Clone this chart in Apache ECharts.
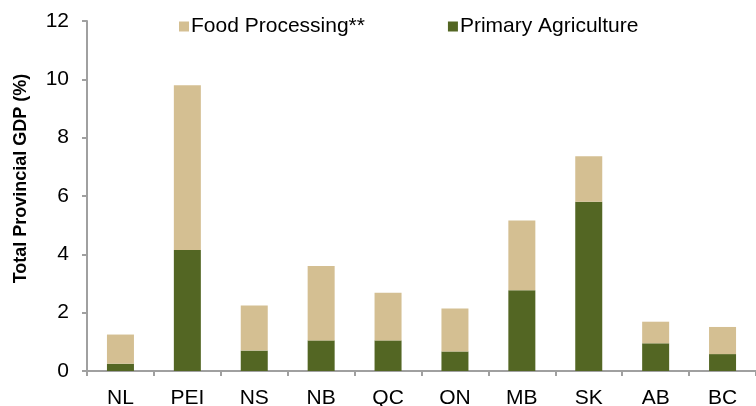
<!DOCTYPE html>
<html>
<head>
<meta charset="utf-8">
<script src="https://cdn.jsdelivr.net/npm/echarts@6/dist/echarts.min.js"></script>
<style>
  html, body { margin: 0; padding: 0; background: #fff; }
  #chart { width: 756px; height: 406px; }
</style>
</head>
<body>
<div id="chart"></div>
<script>
  // provinces along the x axis
  var provinces = ['NL', 'PEI', 'NS', 'NB', 'QC', 'ON', 'MB', 'SK', 'AB', 'BC'];
  // share of total provincial GDP (%)
  var primaryAgriculture = [0.25, 4.15, 0.7, 1.05, 1.05, 0.67, 2.77, 5.8, 0.95, 0.58];
  var foodProcessing = [1.0, 5.65, 1.55, 2.55, 1.63, 1.47, 2.39, 1.56, 0.74, 0.93];

  var axisGrey = '#a0a0a0';
  var font = 'Liberation Sans, Arial, sans-serif';

  var chart = echarts.init(document.getElementById('chart'));
  chart.setOption({
    animation: false,
    textStyle: { fontFamily: font },
    legend: {
      top: 11,
      left: 174,
      itemWidth: 10,
      itemHeight: 10,
      itemGap: 83,
      icon: 'rect',
      textStyle: { fontSize: 21, color: '#000', fontFamily: font, padding: [0, 0, 0, -3] },
      data: ['Food Processing**', 'Primary Agriculture']
    },
    grid: {
      left: 87,
      right: 0,
      top: 21,
      bottom: 35,
      outerBoundsMode: 'none'
    },
    xAxis: {
      type: 'category',
      data: provinces,
      axisLine: { lineStyle: { color: axisGrey, width: 2 } },
      axisTick: { show: true, length: 5, lineStyle: { color: axisGrey, width: 2 } },
      axisLabel: { color: '#000', fontSize: 21, margin: 17, fontFamily: font }
    },
    yAxis: {
      type: 'value',
      min: 0,
      max: 12,
      interval: 2,
      name: 'Total Provincial GDP (%)',
      nameLocation: 'middle',
      nameGap: 57,
      nameTextStyle: { fontSize: 18, fontWeight: 'bold', color: '#000', fontFamily: font, padding: [0, 0, 0, 35] },
      axisLine: { show: true, lineStyle: { color: axisGrey, width: 2 } },
      axisTick: { show: true, length: 5, lineStyle: { color: axisGrey, width: 2 } },
      splitLine: { show: false },
      axisLabel: { color: '#000', fontSize: 21, margin: 18, fontFamily: font }
    },
    series: [
      {
        name: 'Primary Agriculture',
        type: 'bar',
        stack: 'gdp',
        barWidth: 27,
        itemStyle: { color: '#536623' },
        data: primaryAgriculture
      },
      {
        name: 'Food Processing**',
        type: 'bar',
        stack: 'gdp',
        barWidth: 27,
        itemStyle: { color: '#d4bf92' },
        data: foodProcessing
      }
    ]
  });
</script>
</body>
</html>
